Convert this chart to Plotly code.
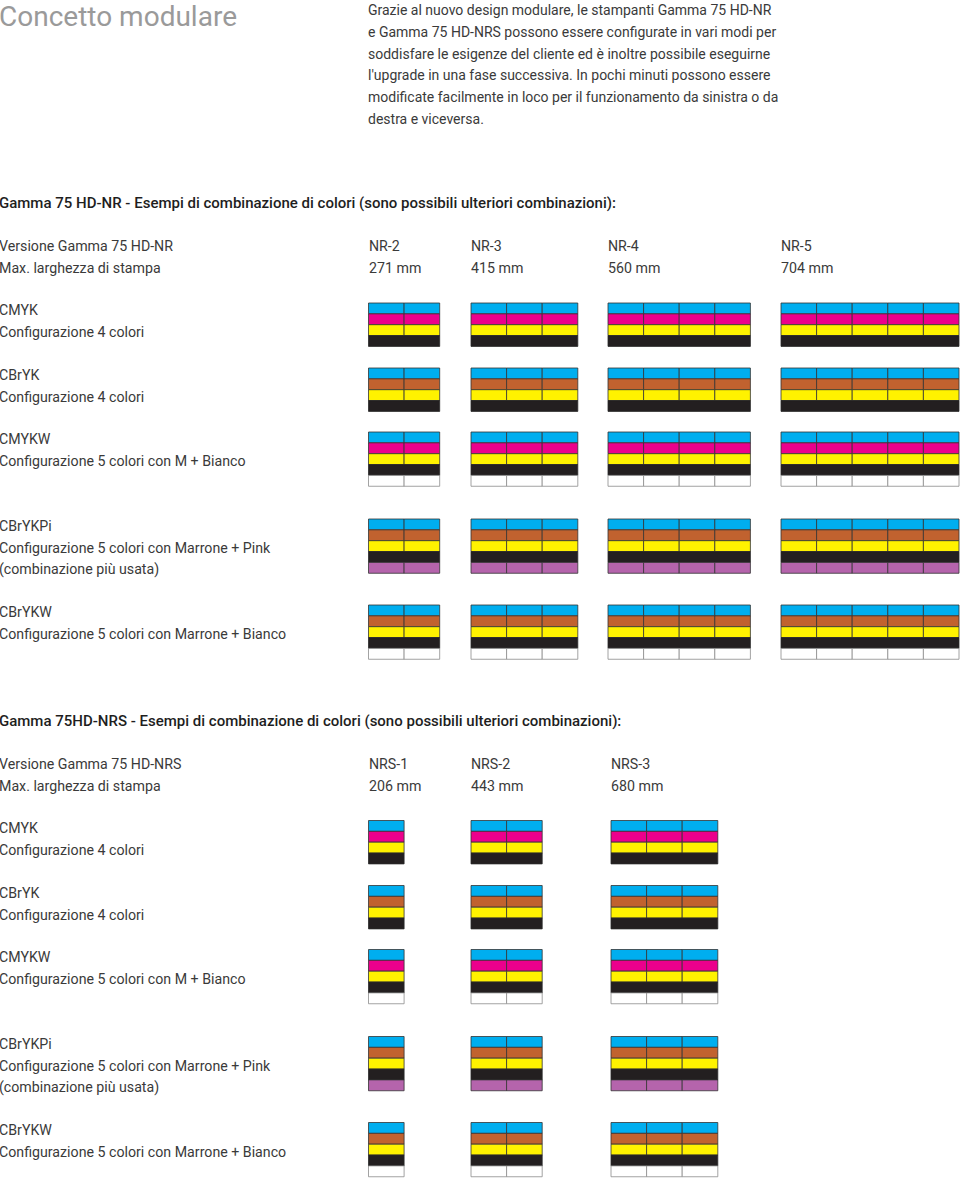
import plotly.graph_objects as go

# ---- data -------------------------------------------------------------
title_text = "Concetto modulare"
intro_lines = [
    "Grazie al nuovo design modulare, le stampanti Gamma 75 HD-NR",
    "e Gamma 75 HD-NRS possono essere configurate in vari modi per",
    "soddisfare le esigenze del cliente ed è inoltre possibile eseguirne",
    "l'upgrade in una fase successiva. In pochi minuti possono essere",
    "modificate facilmente in loco per il funzionamento da sinistra o da",
    "destra e viceversa.",
]

nr_heading = "Gamma 75 HD-NR - Esempi di combinazione di colori (sono possibili ulteriori combinazioni):"
nr_version_label = "Versione Gamma 75 HD-NR"
nr_versions = ["NR-2", "NR-3", "NR-4", "NR-5"]
nr_widths = ["271 mm", "415 mm", "560 mm", "704 mm"]
nr_modules = [2, 3, 4, 5]

nrs_heading = "Gamma 75HD-NRS - Esempi di combinazione di colori (sono possibili ulteriori combinazioni):"
nrs_version_label = "Versione Gamma 75 HD-NRS"
nrs_versions = ["NRS-1", "NRS-2", "NRS-3"]
nrs_widths = ["206 mm", "443 mm", "680 mm"]
nrs_modules = [1, 2, 3]

width_label = "Max. larghezza di stampa"

config_codes = ["CMYK", "CBrYK", "CMYKW", "CBrYKPi", "CBrYKW"]
config_desc = [
    ["Configurazione 4 colori"],
    ["Configurazione 4 colori"],
    ["Configurazione 5 colori con M + Bianco"],
    ["Configurazione 5 colori con Marrone + Pink", "(combinazione più usata)"],
    ["Configurazione 5 colori con Marrone + Bianco"],
]
config_inks = [
    ["C", "M", "Y", "K"],
    ["C", "Br", "Y", "K"],
    ["C", "M", "Y", "K", "W"],
    ["C", "Br", "Y", "K", "Pi"],
    ["C", "Br", "Y", "K", "W"],
]

# ---- styles / layout --------------------------------------------------
INK_COLORS = {
    "C": "#00AEEF",
    "M": "#EC008C",
    "Y": "#FFF200",
    "K": "#231F20",
    "Br": "#C1622F",
    "Pi": "#B564AC",
    "W": "#FFFFFF",
}
FONT = "Roboto, Arial, sans-serif"
TEXT_COLOR = "#3a3a3a"
BODY_SIZE = 14.2
CELL_W = 35.6
ROW_H = 10.85

# per section: vertical offset and x of each version column
sections = [
    dict(heading=nr_heading, version_label=nr_version_label, versions=nr_versions,
         widths=nr_widths, modules=nr_modules, y0=0.0,
         col_x=[368.5, 471.0, 608.0, 781.0]),
    dict(heading=nrs_heading, version_label=nrs_version_label, versions=nrs_versions,
         widths=nrs_widths, modules=nrs_modules, y0=517.5,
         col_x=[368.5, 471.0, 611.0]),
]
# block tops relative to section offset
config_tops = [303.0, 368.0, 432.0, 519.0, 605.0]

fig = go.Figure()
annotations = []
shapes = []


def add_text(x, y, text, size=BODY_SIZE, color=TEXT_COLOR, weight="normal"):
    annotations.append(dict(
        x=x, y=y, xref="x", yref="y", text=text, showarrow=False,
        xanchor="left", yanchor="middle", xshift=-3,
        font=dict(family=FONT, size=size, color=color, weight=weight),
    ))


add_text(0, 16, title_text, size=28, color="#9a9a9a")
for i, line in enumerate(intro_lines):
    add_text(369, 10 + i * 21.8, line, size=14)

for sec in sections:
    y0 = sec["y0"]
    add_text(0, y0 + 203, sec["heading"], size=15, color="#1e1e1e", weight=500)
    add_text(0, y0 + 246, sec["version_label"])
    add_text(0, y0 + 268, width_label)
    for x, v, w in zip(sec["col_x"], sec["versions"], sec["widths"]):
        add_text(x + 1, y0 + 246, v)
        add_text(x + 1, y0 + 268, w)

    for top, code, desc, inks in zip(config_tops, config_codes, config_desc, config_inks):
        t = y0 + top
        add_text(0, t + 7, code)
        for j, d in enumerate(desc):
            add_text(0, t + 29 + j * 21.5, d)

        for x, n in zip(sec["col_x"], sec["modules"]):
            for r, ink in enumerate(inks):
                ya = t + r * ROW_H
                yb = ya + ROW_H
                fill = INK_COLORS[ink]
                edge = "#8c8c8c" if ink == "W" else "#333333"
                if ink == "K":
                    shapes.append(dict(type="rect", xref="x", yref="y",
                                       x0=x, x1=x + n * CELL_W, y0=ya, y1=yb,
                                       fillcolor=fill, line=dict(color="#2a2a2a", width=0.8)))
                    continue
                for m in range(n):
                    shapes.append(dict(type="rect", xref="x", yref="y",
                                       x0=x + m * CELL_W, x1=x + (m + 1) * CELL_W,
                                       y0=ya, y1=yb, fillcolor=fill,
                                       line=dict(color=edge, width=0.8)))

# invisible trace so the axes exist
fig.add_trace(go.Scatter(x=[0, 960], y=[0, 1180], mode="markers",
                         marker=dict(opacity=0), hoverinfo="skip", showlegend=False))

fig.update_layout(
    width=960, height=1180,
    margin=dict(l=0, r=0, t=0, b=0),
    paper_bgcolor="white", plot_bgcolor="white",
    shapes=shapes, annotations=annotations,
    showlegend=False,
)
fig.update_xaxes(range=[0, 960], visible=False, fixedrange=True)
fig.update_yaxes(range=[1180, 0], visible=False, fixedrange=True)

fig.write_html("out.html", config={"displayModeBar": False},
               post_script="document.body.style.margin='0';")
